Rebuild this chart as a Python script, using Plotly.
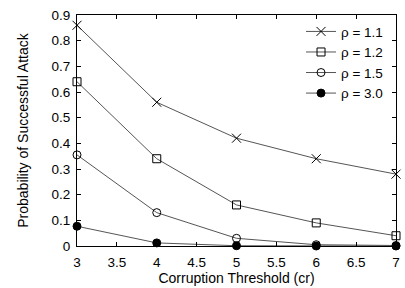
import plotly.graph_objects as go

thresholds = [3, 4, 5, 6, 7]
rho_11 = [0.86, 0.56, 0.42, 0.34, 0.28]
rho_12 = [0.64, 0.34, 0.16, 0.09, 0.04]
rho_15 = [0.355, 0.13, 0.03, 0.005, 0.002]
rho_30 = [0.077, 0.012, 0.001, 0.0, 0.0]

series = [
    ("ρ = 1.1", rho_11, "x-thin-open", 9),
    ("ρ = 1.2", rho_12, "square-open", 8),
    ("ρ = 1.5", rho_15, "circle-open", 8),
    ("ρ = 3.0", rho_30, "circle", 8),
]

fig = go.Figure()
for name, vals, sym, sz in series:
    fig.add_trace(go.Scatter(
        x=thresholds, y=vals, name=name, mode="lines+markers",
        cliponaxis=False,
        line=dict(color="#555555", width=1),
        marker=dict(symbol=sym, size=sz, color="black",
                    line=dict(color="black", width=1)),
    ))

axis_common = dict(
    showline=True, linecolor="black", linewidth=1, mirror="ticks",
    ticks="inside", ticklen=4, tickcolor="black", showgrid=False,
    zeroline=False, tickfont=dict(size=13.5, color="black"),
    automargin=False, ticklabeloverflow="allow",
)
fig.update_xaxes(range=[3, 7], dtick=0.5, ticklabelstandoff=4,
                 title=dict(text="Corruption Threshold (cr)", font=dict(size=14, color="black"), standoff=2), **axis_common)
fig.update_yaxes(range=[0, 0.9], dtick=0.1, ticklabelstandoff=3,
                 title=dict(text="Probability of Successful Attack", font=dict(size=14, color="black"), standoff=19), **axis_common)

fig.update_layout(
    width=405, height=288,
    margin=dict(l=77, r=9, t=15, b=42),
    paper_bgcolor="white", plot_bgcolor="white",
    font=dict(family="Liberation Sans, Arial, sans-serif", size=14, color="black"),
    legend=dict(x=0.975, y=0.995, xanchor="right", yanchor="top",
                bgcolor="rgba(0,0,0,0)", font=dict(size=13.5),
                tracegroupgap=0, itemwidth=30),
    showlegend=True,
)
fig.write_html("out.html", config={"displayModeBar": False},
               post_script="document.body.style.margin='0';document.body.style.padding='0';")
